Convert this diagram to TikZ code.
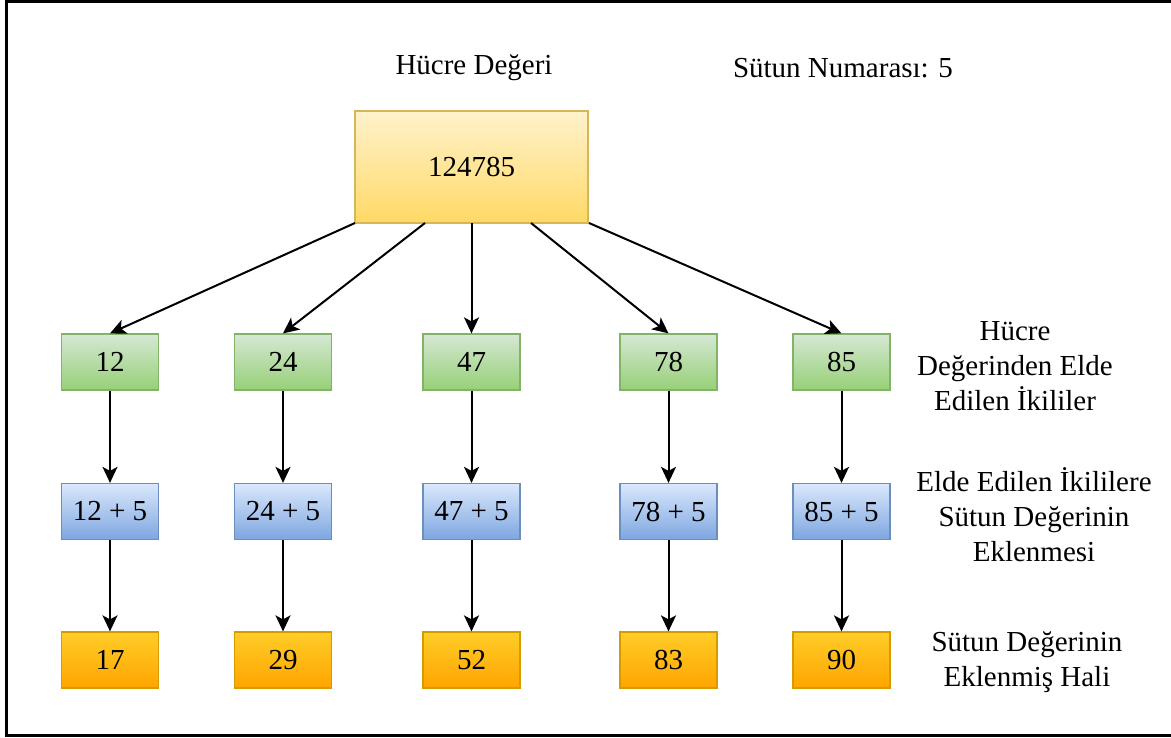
\documentclass[tikz,border=0pt]{standalone}
\usepackage{fontspec}
\setmainfont{Liberation Serif}
\newfontfamily\labelfont{Liberation Serif}
\usetikzlibrary{arrows.meta,shadings}

\definecolor{yelTop}{HTML}{FFF2CC}
\definecolor{yelBot}{HTML}{FFD966}
\definecolor{yelLine}{HTML}{D6B656}
\definecolor{grnTop}{HTML}{D5E8D4}
\definecolor{grnBot}{HTML}{97D077}
\definecolor{grnLine}{HTML}{82B366}
\definecolor{bluTop}{HTML}{DAE8FC}
\definecolor{bluBot}{HTML}{7EA6E0}
\definecolor{bluLine}{HTML}{6C8EBF}
\definecolor{orgTop}{HTML}{FFCD28}
\definecolor{orgBot}{HTML}{FFA500}
\definecolor{orgLine}{HTML}{D79B00}

\tikzset{
  txt/.style={font=\labelfont\fontsize{29}{35}\selectfont, text=black},
  cell/.style={txt, draw, line width=1.2pt, minimum width=97pt, minimum height=56pt, inner sep=0pt},
  pairbox/.style={cell, top color=grnTop, bottom color=grnBot, draw=grnLine},
  sumbox/.style={cell, top color=bluTop, bottom color=bluBot, draw=bluLine},
  resbox/.style={cell, top color=orgTop, bottom color=orgBot, draw=orgLine},
  rootbox/.style={cell, top color=yelTop, bottom color=yelBot, draw=yelLine, minimum width=233pt, minimum height=112pt},
  note/.style={txt, align=center},
  link/.style={line width=2pt, -{Stealth[length=16pt,width=15pt,inset=4pt]}}
}

\begin{document}
\begin{tikzpicture}[x=1pt,y=-1pt]
\useasboundingbox (0,0) rectangle (1171,738);

% outer frame (open on the right)
\draw[line width=3pt, black] (1175,2) -- (6,2) -- (6,735) -- (1175,735);

% headings
\node[txt] (title) at (474,68) {Hücre Değeri};
\node[txt] (colno) at (843,68) {Sütun Numarası: 5};

% cell value
\node[rootbox] (root) at (471.5,167) {124785};
\coordinate (r1) at (355,223);
\coordinate (r2) at (425,223);
\coordinate (r3) at (471.5,223);
\coordinate (r4) at (531,223);
\coordinate (r5) at (589,223);

% columns
\foreach \i/\x/\p/\r in {1/110/12/17, 2/283/24/29, 3/471.5/47/52, 4/668.5/78/83, 5/841.5/85/90} {
  \node[pairbox] (p\i) at (\x,362) {\p};
  \node[sumbox]  (s\i) at (\x,511.5) {\p{} + 5};
  \node[resbox]  (o\i) at (\x,660) {\r};
  \draw[link] (r\i) -- (p\i.north);
  \draw[link] (p\i) -- (s\i);
  \draw[link] (s\i) -- (o\i);
}

% row descriptions
\node[note] (n1) at (1015,366) {Hücre\\Değerinden Elde\\Edilen İkililer};
\node[note] (n2) at (1034,515) {Elde Edilen İkililere\\Sütun Değerinin\\Eklenmesi};
\node[note] (n3) at (1027,662) {Sütun Değerinin\\Eklenmiş Hali};
\end{tikzpicture}
\end{document}
